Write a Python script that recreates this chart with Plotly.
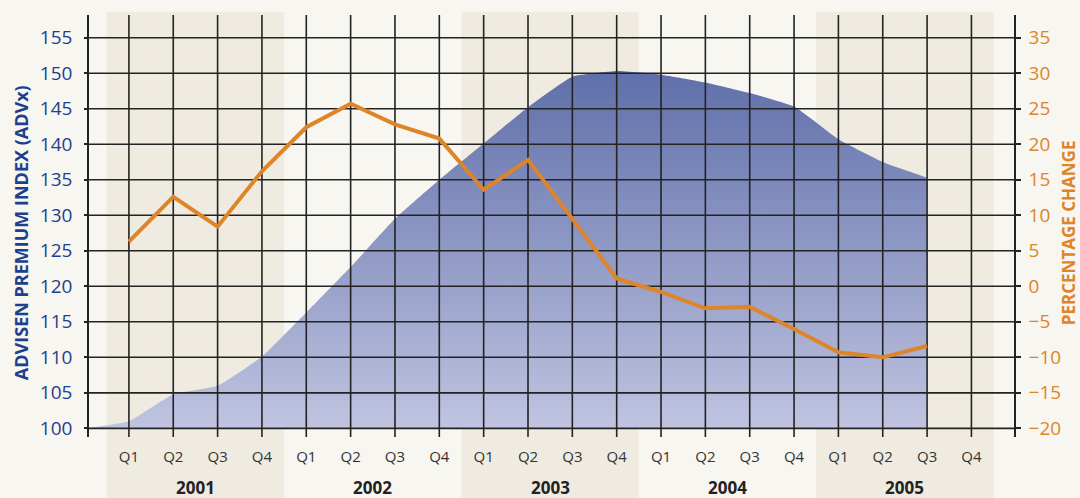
import plotly.graph_objects as go

# ---- data -------------------------------------------------------------
years = ["2001", "2002", "2003", "2004", "2005"]
quarters = ["Q1", "Q2", "Q3", "Q4"]

# Advisen Premium Index, base quarter (Q4 2000) = 100
index_base = 100.0
adv_index = [101.0, 104.8, 106.0, 110.1,
             116.3, 122.7, 129.5, 135.0,
             140.1, 145.2, 149.5, 150.3,
             149.8, 148.7, 147.2, 145.3,
             140.7, 137.5, 135.3]

# Percentage change (right axis)
pct_change = [6.3, 12.6, 8.4, 16.2,
              22.4, 25.7, 22.8, 20.8,
              13.6, 17.8, 9.5, 1.1,
              -0.8, -3.1, -2.9, -6.0,
              -9.3, -10.0, -8.4]

left_ticks = [100, 105, 110, 115, 120, 125, 130, 135, 140, 145, 150, 155]
right_ticks = [-20, -15, -10, -5, 0, 5, 10, 15, 20, 25, 30, 35]

# ---- styling ------------------------------------------------------------
PAPER = "#f7f6f1"
BAND = "#efebe1"
GRID = "#232323"
BLUE_TXT = "#1d3f8d"
ORANGE = "#de8429"
FONT = "Open Sans"

n_quarters = len(years) * len(quarters)
x_q = list(range(n_quarters))
tick_text = quarters * len(years)

x_range = [-0.9, 19.96]
y_range = [98.78, 158.2]
y2_range = [y_range[0] - 120, y_range[1] - 120]

x_area = [-1] + list(range(len(adv_index)))
y_area = [index_base] + adv_index

fig = go.Figure()

# baseline for the area fill
fig.add_trace(go.Scatter(
    x=x_area, y=[index_base] * len(x_area), mode="lines",
    line=dict(width=0, color="rgba(0,0,0,0)"), hoverinfo="skip",
    showlegend=False))

# premium index area with vertical gradient
fig.add_trace(go.Scatter(
    x=x_area, y=y_area, mode="lines", fill="tonexty",
    line=dict(width=0, color="rgba(0,0,0,0)", shape="spline", smoothing=0.4),
    fillgradient=dict(type="vertical",
                      colorscale=[[0, "#c0c4e1"], [1, "#5f6fa9"]]),
    hoverinfo="skip", showlegend=False))

# grid drawn over the area, under the percentage line
gx, gy = [], []
for q in x_q:
    gx += [q, q, None]
    gy += [y_range[0], y_range[1], None]
for v in left_ticks:
    gx += [x_range[0], x_range[1], None]
    gy += [v, v, None]
fig.add_trace(go.Scatter(
    x=gx, y=gy, mode="lines", line=dict(color=GRID, width=1.6),
    hoverinfo="skip", showlegend=False))

# percentage change line
fig.add_trace(go.Scatter(
    x=list(range(len(pct_change))), y=pct_change, yaxis="y2", mode="lines",
    line=dict(color=ORANGE, width=4), hoverinfo="skip", showlegend=False))

# alternating year bands
shapes = []
for i, yr in enumerate(years):
    if i % 2 == 0:
        shapes.append(dict(
            type="rect", xref="x", yref="paper",
            x0=i * 4 - 0.5, x1=i * 4 + 3.5, y0=-0.15, y1=1.007,
            fillcolor=BAND, line=dict(width=0), layer="below"))

annotations = []
for i, yr in enumerate(years):
    annotations.append(dict(
        x=i * 4 + 1.5, xref="x", y=-0.1185, yref="paper", text=yr,
        showarrow=False, yanchor="middle", xanchor="center",
        font=dict(family=FONT, size=17, color="#222222", weight="bold")))

annotations.append(dict(
    x=-0.0735, xref="paper", y=0.483, yref="paper",
    xanchor="center", yanchor="middle",
    text="ADVISEN PREMIUM INDEX (ADVx)", textangle=-90, showarrow=False,
    font=dict(family=FONT, size=18, color=BLUE_TXT, weight="bold")))
annotations.append(dict(
    x=1.0584, xref="paper", y=0.483, yref="paper",
    xanchor="center", yanchor="middle",
    text="PERCENTAGE CHANGE", textangle=-90, showarrow=False,
    font=dict(family=FONT, size=17, color=ORANGE, weight="bold")))

fig.update_layout(
    width=1080, height=498,
    margin=dict(l=89, r=66, t=15, b=61),
    paper_bgcolor=PAPER, plot_bgcolor="rgba(0,0,0,0)",
    shapes=shapes, annotations=annotations,
    xaxis=dict(
        range=x_range, tickmode="array", tickvals=x_q, ticktext=tick_text,
        showgrid=False, zeroline=False, showline=False, ticks="",
        ticklabelstandoff=9,
        tickfont=dict(family=FONT, size=15, color="#333333")),
    yaxis=dict(
        range=y_range, tickmode="array", tickvals=left_ticks,
        showgrid=False, zeroline=False, showline=True, linecolor=GRID,
        linewidth=1.6, ticks="outside", ticklen=3, tickwidth=1.6,
        tickcolor=GRID, ticklabelstandoff=8,
        tickfont=dict(family=FONT, size=19, color=BLUE_TXT)),
    yaxis2=dict(
        range=y2_range, overlaying="y", side="right", tickmode="array",
        tickvals=right_ticks, showgrid=False, zeroline=False, showline=True,
        linecolor=GRID, linewidth=1.6, ticks="outside", ticklen=5,
        tickwidth=1.6, tickcolor=GRID, ticklabelstandoff=4,
        tickfont=dict(family=FONT, size=19, color=ORANGE)),
)

fig.write_html("out.html")
